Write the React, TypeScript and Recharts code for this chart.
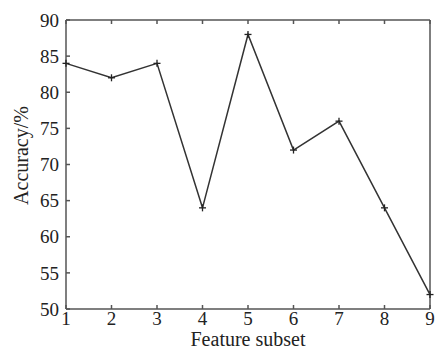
import { LineChart, Line, XAxis, YAxis, Label } from "recharts";

const subsets = [1, 2, 3, 4, 5, 6, 7, 8, 9];
const accuracy = [84, 82, 84, 64, 88, 72, 76, 64, 52];
const yTicks = [50, 55, 60, 65, 70, 75, 80, 85, 90];

const data = subsets.map((s, i) => ({ subset: s, accuracy: accuracy[i] }));

const axisColor = "#555";
const serif = "'Liberation Serif', 'Times New Roman', serif";
const tickFont = { fontFamily: serif, fontSize: 19, fill: "#222" };
const labelFont = { fontFamily: serif, fontSize: 20, fill: "#222" };

const PlusDot = (props: any) => {
  const { cx, cy } = props;
  if (cx == null || cy == null) return <g />;
  const s = 3.5;
  return (
    <g stroke="#222" strokeWidth={1.3}>
      <line x1={cx - s} y1={cy} x2={cx + s} y2={cy} />
      <line x1={cx} y1={cy - s} x2={cx} y2={cy + s} />
    </g>
  );
};

const NoTick = () => <g />;

export default function App() {
  return (
    <div style={{ position: "absolute", left: 0, top: 0, background: "#fff" }}>
      <LineChart width={436} height={351} data={data} margin={{ top: 0, right: 0, bottom: 0, left: 0 }}>
        <XAxis
          xAxisId="b"
          dataKey="subset"
          type="number"
          domain={[1, 9]}
          ticks={subsets}
          height={42}
          tickSize={-4}
          tickMargin={7}
          tick={tickFont}
          stroke={axisColor}
          strokeWidth={1.5}
        >
          <Label value="Feature subset" position="insideBottom" offset={5} style={labelFont} />
        </XAxis>
        <XAxis
          xAxisId="t"
          orientation="top"
          dataKey="subset"
          type="number"
          domain={[1, 9]}
          ticks={subsets}
          height={20}
          tickSize={-4}
          tick={NoTick}
          stroke={axisColor}
          strokeWidth={1.5}
        />
        <YAxis
          yAxisId="l"
          type="number"
          domain={[50, 90]}
          ticks={yTicks}
          width={66}
          tickSize={-4}
          tickMargin={11}
          tick={tickFont}
          stroke={axisColor}
          strokeWidth={1.5}
        >
          <Label value="Accuracy/%" angle={-90} position="center" dx={-12} dy={-9} style={labelFont} />
        </YAxis>
        <YAxis
          yAxisId="r"
          orientation="right"
          type="number"
          domain={[50, 90]}
          ticks={yTicks}
          width={6}
          tickSize={-4}
          tick={NoTick}
          stroke={axisColor}
          strokeWidth={1.5}
        />
        <Line
          xAxisId="b"
          yAxisId="l"
          type="linear"
          dataKey="accuracy"
          stroke="#333"
          strokeWidth={1.5}
          dot={<PlusDot />}
          activeDot={false}
          isAnimationActive={false}
        />
      </LineChart>
    </div>
  );
}
